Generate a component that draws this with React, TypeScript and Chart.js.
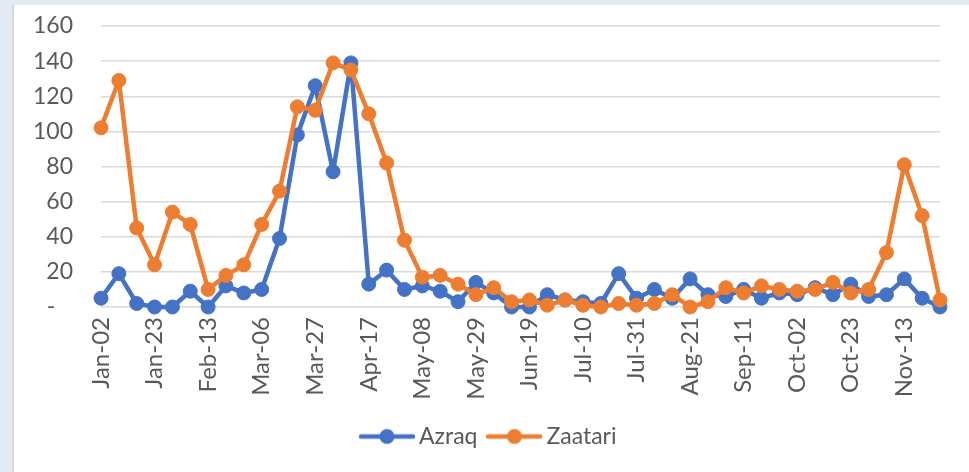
import { useEffect, useRef } from "react";
import { Chart, registerables } from "chart.js";

Chart.register(...registerables);

const weeks = [
  "Jan-02", "Jan-09", "Jan-16", "Jan-23", "Jan-30",
  "Feb-06", "Feb-13", "Feb-20", "Feb-27",
  "Mar-06", "Mar-13", "Mar-20", "Mar-27",
  "Apr-03", "Apr-10", "Apr-17", "Apr-24",
  "May-01", "May-08", "May-15", "May-22", "May-29",
  "Jun-05", "Jun-12", "Jun-19", "Jun-26",
  "Jul-03", "Jul-10", "Jul-17", "Jul-24", "Jul-31",
  "Aug-07", "Aug-14", "Aug-21", "Aug-28",
  "Sep-04", "Sep-11", "Sep-18", "Sep-25",
  "Oct-02", "Oct-09", "Oct-16", "Oct-23", "Oct-30",
  "Nov-06", "Nov-13", "Nov-20", "Nov-27",
];

const shownTickLabels = [
  "Jan-02", "Jan-23", "Feb-13", "Mar-06", "Mar-27", "Apr-17", "May-08", "May-29",
  "Jun-19", "Jul-10", "Jul-31", "Aug-21", "Sep-11", "Oct-02", "Oct-23", "Nov-13",
];

const azraq = [
  5, 19, 2, 0, 0, 9, 0, 12, 8, 10,
  39, 98, 126, 77, 139, 13, 21, 10, 12, 9,
  3, 14, 8, 0, 0, 7, 4, 3, 2, 19,
  5, 10, 5, 16, 7, 6, 10, 5, 8, 7,
  11, 7, 13, 6, 7, 16, 5, 0,
];

const zaatari = [
  102, 129, 45, 24, 54, 47, 10, 18, 24, 47,
  66, 114, 112, 139, 135, 110, 82, 38, 17, 18,
  13, 7, 11, 3, 4, 1, 4, 1, 0, 2,
  1, 2, 7, 0, 3, 11, 8, 12, 10, 9,
  10, 14, 8, 10, 31, 81, 52, 4,
];

const yMin = 0;
const yMax = 160;
const yStep = 20;

const BLUE = "#4472C4";
const ORANGE = "#ED7D31";
const FONT = "Lato, 'Open Sans', sans-serif";
const TEXT = "#595959";

function legendSymbol(color: string): HTMLCanvasElement {
  const c = document.createElement("canvas");
  c.width = 56;
  c.height = 18;
  const ctx = c.getContext("2d")!;
  ctx.strokeStyle = color;
  ctx.lineWidth = 4.5;
  ctx.lineCap = "round";
  ctx.beginPath();
  ctx.moveTo(2, 9);
  ctx.lineTo(54, 9);
  ctx.stroke();
  ctx.fillStyle = color;
  ctx.beginPath();
  ctx.arc(28, 9, 7.5, 0, Math.PI * 2);
  ctx.fill();
  return c;
}

export default function App() {
  const ref = useRef<HTMLCanvasElement | null>(null);

  useEffect(() => {
    if (!ref.current) return;
    const symbols = [legendSymbol(BLUE), legendSymbol(ORANGE)];
    const lineStyle = (color: string, order: number) => ({
      borderColor: color,
      backgroundColor: color,
      borderWidth: 4.5,
      borderJoinStyle: "round" as const,
      borderCapStyle: "round" as const,
      pointRadius: 7,
      pointBorderWidth: 1,
      pointBackgroundColor: color,
      pointBorderColor: color,
      tension: 0,
      clip: false as const,
      order,
    });
    const chart: any = new Chart(ref.current, {
      type: "line",
      data: {
        labels: weeks,
        datasets: [
          { label: "Azraq", data: azraq, ...lineStyle(BLUE, 1) },
          { label: "Zaatari", data: zaatari, ...lineStyle(ORANGE, 0) },
        ],
      },
      options: {
        responsive: false,
        animation: false,
        layout: { padding: { left: 0, right: 0, top: 21, bottom: 14 } },
        plugins: {
          title: { display: false },
          tooltip: { enabled: false },
          legend: {
            display: true,
            position: "bottom",
            labels: {
              usePointStyle: true,
              pointStyleWidth: 41,
              padding: 16.5,
              color: TEXT,
              font: { family: FONT, size: 23 },
              generateLabels: (ch: any) =>
                ch.data.datasets.map((ds: any, i: number) => ({
                  text: ds.label,
                  fillStyle: ds.borderColor,
                  strokeStyle: ds.borderColor,
                  lineWidth: 0,
                  pointStyle: symbols[i],
                  hidden: false,
                  datasetIndex: i,
                  fontColor: TEXT,
                })),
            },
          },
        },
        scales: {
          x: {
            type: "category",
            offset: false,
            grid: { display: false, drawTicks: false },
            border: { display: false },
            afterFit: (s: any) => {
              s.height = 101.5;
            },
            ticks: {
              autoSkip: false,
              maxRotation: 90,
              minRotation: 90,
              padding: 10,
              color: TEXT,
              font: { family: FONT, size: 24 },
              callback: (_v: any, i: number) =>
                shownTickLabels.includes(weeks[i]) ? weeks[i] : null,
            },
          },
          y: {
            min: yMin,
            max: yMax,
            grid: { color: "#d9d9d9", lineWidth: 1.5, drawTicks: false },
            border: { display: false },
            afterFit: (s: any) => {
              s.width = 87;
              s.paddingTop = 10;
              s.paddingBottom = 10;
            },
            ticks: {
              stepSize: yStep,
              padding: 28,
              color: TEXT,
              font: { family: FONT, size: 23 },
              callback: (v: any) => (Number(v) === 0 ? "-   " : String(v)),
            },
          },
          yRight: {
            position: "right",
            min: yMin,
            max: yMax,
            grid: { display: false, drawTicks: false },
            border: { display: false },
            ticks: { display: false },
            afterFit: (s: any) => {
              s.width = 29;
              s.paddingTop = 0;
              s.paddingBottom = 0;
            },
          },
        },
      },
    });
    return () => chart.destroy();
  }, []);

  return (
    <div
      style={{
        position: "fixed",
        left: 0,
        top: 0,
        width: 969,
        height: 472,
        background: "#e4eaf4",
        overflow: "hidden",
      }}
    >
      <div
        style={{
          position: "absolute",
          left: 12,
          top: 5,
          width: 957,
          height: 467,
          background: "#ffffff",
          borderLeft: "2px solid #d3d7dd",
        }}
      >
        <canvas ref={ref} width={955} height={467} style={{ display: "block", width: 955, height: 467 }} />
      </div>
    </div>
  );
}
